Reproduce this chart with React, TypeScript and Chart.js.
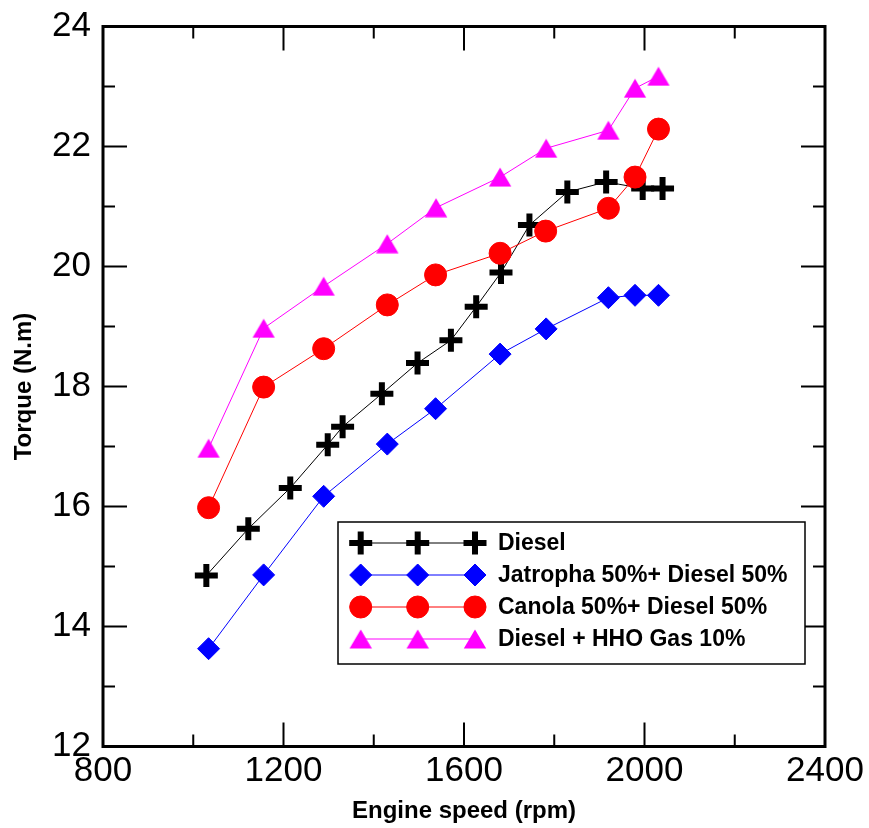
import React, { useEffect, useRef } from 'react';
import { Chart, registerables } from 'chart.js';

Chart.register(...registerables);

// ---- Data ----
const dieselSpeed = [1029, 1122, 1215, 1298, 1331, 1418, 1497, 1571, 1627, 1682, 1745, 1829, 1915, 1996, 2040];
const dieselTorque = [14.85, 15.63, 16.31, 17.03, 17.33, 17.88, 18.39, 18.77, 19.33, 19.9, 20.69, 21.24, 21.41, 21.3, 21.3];

const jatrophaSpeed = [1034, 1156, 1289, 1430, 1537, 1680, 1782, 1920, 1979, 2031];
const jatrophaTorque = [13.63, 14.86, 16.17, 17.04, 17.63, 18.54, 18.96, 19.48, 19.52, 19.52];

const canolaSpeed = [1034, 1156, 1289, 1430, 1537, 1680, 1781, 1920, 1979, 2031];
const canolaTorque = [15.98, 17.99, 18.63, 19.36, 19.86, 20.22, 20.59, 20.97, 21.49, 22.29];

const hhoSpeed = [1034, 1156, 1289, 1430, 1538, 1680, 1782, 1920, 1979, 2031];
const hhoTorque = [16.97, 18.97, 19.67, 20.38, 20.98, 21.49, 21.97, 22.27, 22.97, 23.17];

const seriesNames = ['Diesel', 'Jatropha 50%+ Diesel 50%', 'Canola 50%+ Diesel 50%', 'Diesel + HHO Gas 10%'];

const xMajorTicks = [800, 1200, 1600, 2000, 2400];
const xMinorTicks = [1000, 1400, 1800, 2200];
const yMajorTicks = [12, 14, 16, 18, 20, 22, 24];
const yMinorTicks = [13, 15, 17, 19, 21, 23];

const FONT = '"Liberation Sans", Arial, Helvetica, sans-serif';

function zip(xs: number[], ys: number[]) {
  return xs.map((x, i) => ({ x, y: ys[i] }));
}

function makeTriangle(color: string): HTMLCanvasElement {
  const c = document.createElement('canvas');
  c.width = 24;
  c.height = 20;
  const g = c.getContext('2d')!;
  g.fillStyle = color;
  g.beginPath();
  g.moveTo(12, 0.6);
  g.lineTo(23.2, 19.4);
  g.lineTo(0.8, 19.4);
  g.closePath();
  g.fill();
  return c;
}

function drawMarker(ctx: CanvasRenderingContext2D, ds: any, x: number, y: number) {
  const style = ds.pointStyle;
  const r = ds.pointRadius;
  ctx.save();
  if (style instanceof HTMLCanvasElement) {
    ctx.drawImage(style, x - style.width / 2, y - style.height / 2);
  } else if (style === 'cross') {
    ctx.strokeStyle = ds.pointBorderColor;
    ctx.lineWidth = ds.pointBorderWidth;
    ctx.beginPath();
    ctx.moveTo(x - r, y);
    ctx.lineTo(x + r, y);
    ctx.moveTo(x, y - r);
    ctx.lineTo(x, y + r);
    ctx.stroke();
  } else if (style === 'rectRot') {
    ctx.fillStyle = ds.pointBackgroundColor;
    ctx.strokeStyle = ds.pointBorderColor;
    ctx.lineWidth = ds.pointBorderWidth;
    ctx.beginPath();
    ctx.moveTo(x - r, y);
    ctx.lineTo(x, y - r);
    ctx.lineTo(x + r, y);
    ctx.lineTo(x, y + r);
    ctx.closePath();
    ctx.fill();
    ctx.stroke();
  } else {
    ctx.fillStyle = ds.pointBackgroundColor;
    ctx.strokeStyle = ds.pointBorderColor;
    ctx.lineWidth = ds.pointBorderWidth;
    ctx.beginPath();
    ctx.arc(x, y, r, 0, Math.PI * 2);
    ctx.fill();
    ctx.stroke();
  }
  ctx.restore();
}

const framePlugin = {
  id: 'originFrame',
  afterDraw(chart: any) {
    const { ctx, chartArea: a } = chart;
    const xs = chart.scales.x;
    const ys = chart.scales.y;
    ctx.save();
    ctx.strokeStyle = '#000';
    ctx.lineWidth = 2;
    ctx.beginPath();
    const xTick = (v: number, len: number) => {
      const px = xs.getPixelForValue(v);
      ctx.moveTo(px, a.bottom);
      ctx.lineTo(px, a.bottom - len);
      ctx.moveTo(px, a.top);
      ctx.lineTo(px, a.top + len);
    };
    const yTick = (v: number, len: number) => {
      const py = ys.getPixelForValue(v);
      ctx.moveTo(a.left, py);
      ctx.lineTo(a.left + len, py);
      ctx.moveTo(a.right, py);
      ctx.lineTo(a.right - len, py);
    };
    xMajorTicks.forEach((v) => xTick(v, 24));
    xMinorTicks.forEach((v) => xTick(v, 12));
    yMajorTicks.forEach((v) => yTick(v, 24));
    yMinorTicks.forEach((v) => yTick(v, 12));
    ctx.stroke();
    ctx.lineWidth = 3;
    ctx.strokeRect(a.left, a.top, a.right - a.left, a.bottom - a.top);
    ctx.restore();
  },
};

const legendPlugin = {
  id: 'boxLegend',
  afterDraw(chart: any) {
    const { ctx, chartArea: a } = chart;
    const left = a.left + 235;
    const top = a.top + 495.5;
    const w = 467;
    const h = 142;
    ctx.save();
    ctx.fillStyle = '#fff';
    ctx.fillRect(left, top, w, h);
    ctx.lineWidth = 1.5;
    ctx.strokeStyle = '#000';
    ctx.strokeRect(left, top, w, h);
    chart.data.datasets.forEach((ds: any, i: number) => {
      const y = top + 21 + i * 32;
      const mx = [left + 22.7, left + 79.7, left + 137];
      ctx.strokeStyle = ds.borderColor;
      ctx.lineWidth = 1;
      ctx.beginPath();
      ctx.moveTo(mx[0], y);
      ctx.lineTo(mx[2], y);
      ctx.stroke();
      mx.forEach((x) => drawMarker(ctx, ds, x, y));
      ctx.fillStyle = '#000';
      ctx.font = `bold 23px ${FONT}`;
      ctx.textBaseline = 'middle';
      ctx.textAlign = 'left';
      ctx.fillText(ds.label, left + 160, y + 1);
    });
    ctx.restore();
  },
};

export default function App() {
  const canvasRef = useRef<HTMLCanvasElement | null>(null);

  useEffect(() => {
    if (!canvasRef.current) return;
    const tri = makeTriangle('#ff00ff');
    const chart = new Chart(canvasRef.current, {
      type: 'line',
      data: {
        datasets: [
          {
            label: seriesNames[0],
            data: zip(dieselSpeed, dieselTorque),
            borderColor: '#000000',
            borderWidth: 1,
            pointStyle: 'cross',
            pointRadius: 11.5,
            pointBorderWidth: 6,
            pointBorderColor: '#000000',
            pointBackgroundColor: '#000000',
            order: 4,
          },
          {
            label: seriesNames[1],
            data: zip(jatrophaSpeed, jatrophaTorque),
            borderColor: '#0000ff',
            borderWidth: 1,
            pointStyle: 'rectRot',
            pointRadius: 11,
            pointBorderWidth: 1,
            pointBorderColor: '#0000ff',
            pointBackgroundColor: '#0000ff',
            order: 3,
          },
          {
            label: seriesNames[2],
            data: zip(canolaSpeed, canolaTorque),
            borderColor: '#ff0000',
            borderWidth: 1,
            pointStyle: 'circle',
            pointRadius: 11,
            pointBorderWidth: 1,
            pointBorderColor: '#ff0000',
            pointBackgroundColor: '#ff0000',
            order: 2,
          },
          {
            label: seriesNames[3],
            data: zip(hhoSpeed, hhoTorque),
            borderColor: '#ff00ff',
            borderWidth: 1,
            pointStyle: tri,
            pointRadius: 11,
            pointBorderWidth: 1,
            pointBorderColor: '#ff00ff',
            pointBackgroundColor: '#ff00ff',
            order: 1,
          },
        ] as any,
      },
      options: {
        animation: false,
        responsive: false,
        events: [],
        layout: { padding: { top: 26.5, right: 44, left: 0, bottom: 0 } },
        plugins: {
          legend: { display: false },
          tooltip: { enabled: false },
        },
        scales: {
          x: {
            type: 'linear',
            min: 800,
            max: 2400,
            grid: { display: false, drawTicks: false },
            border: { display: false },
            ticks: {
              stepSize: 400,
              autoSkip: false,
              maxRotation: 0,
              padding: 4,
              color: '#000',
              font: { family: FONT, size: 35, lineHeight: 1.2 },
              callback: (v: any) => String(v),
            },
            title: {
              display: true,
              text: 'Engine speed (rpm)',
              color: '#000',
              font: { family: FONT, size: 24, weight: 'bold', lineHeight: 1.2 },
              padding: { top: 0, bottom: 2.5 },
            },
            afterFit: (s: any) => {
              s.height = 81.5;
              s.paddingLeft = 0;
              s.paddingRight = 0;
            },
          },
          y: {
            type: 'linear',
            min: 12,
            max: 24,
            grid: { display: false, drawTicks: false },
            border: { display: false },
            ticks: {
              stepSize: 2,
              autoSkip: false,
              padding: 12,
              color: '#000',
              font: { family: FONT, size: 35, lineHeight: 1.2 },
              callback: (v: any) => String(v),
            },
            title: {
              display: true,
              text: 'Torque (N.m)',
              color: '#000',
              font: { family: FONT, size: 24, weight: 'bold', lineHeight: 1.2 },
              padding: { top: 9.6, bottom: 0 },
            },
            afterFit: (s: any) => {
              s.width = 103;
              s.paddingTop = 0;
              s.paddingBottom = 0;
            },
          },
        },
      } as any,
      plugins: [framePlugin, legendPlugin],
    });
    return () => chart.destroy();
  }, []);

  return (
    <div style={{ position: 'absolute', left: 0, top: 0, width: 869, height: 828, background: '#fff' }}>
      <canvas ref={canvasRef} width={869} height={828} style={{ display: 'block' }} />
    </div>
  );
}
